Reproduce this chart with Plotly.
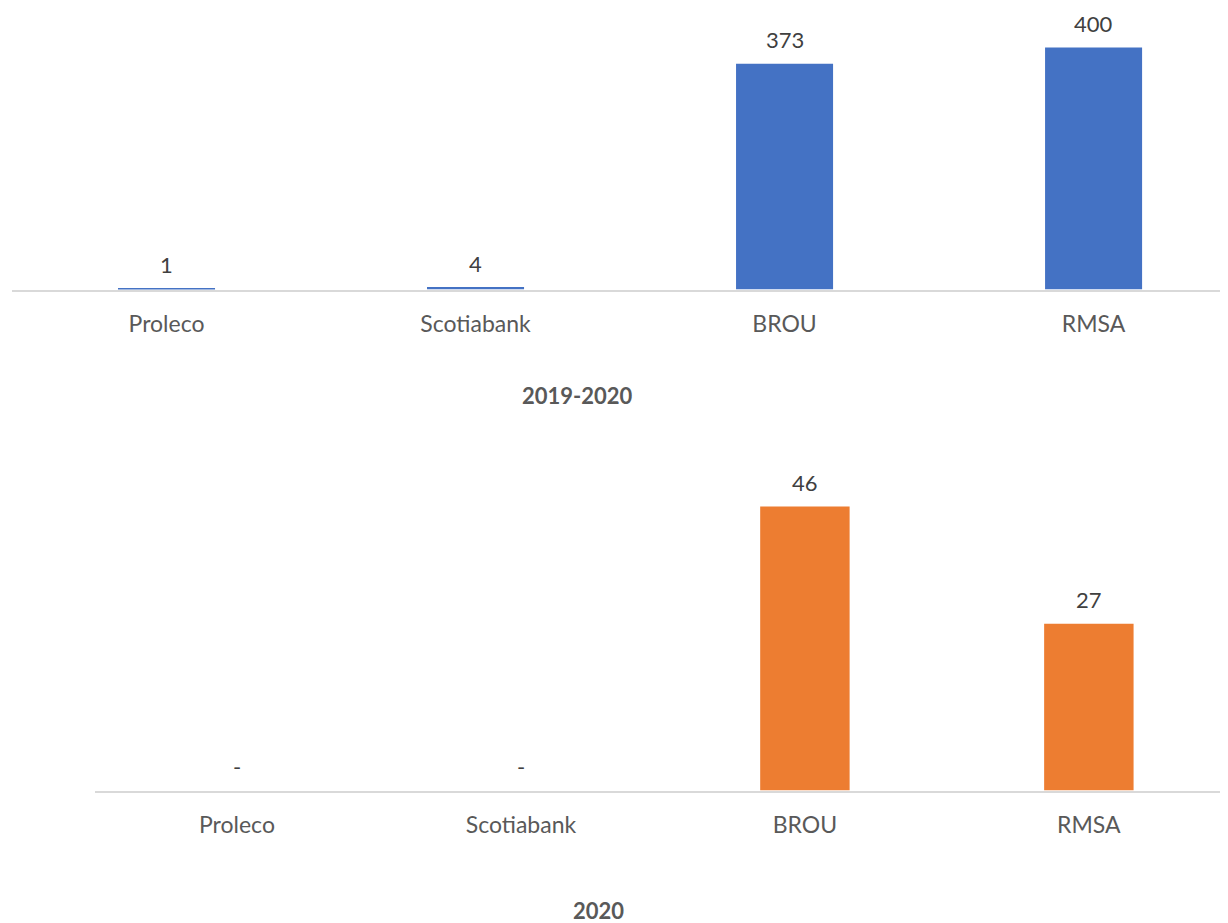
import plotly.graph_objects as go

categories = ["Proleco", "Scotiabank", "BROU", "RMSA"]
values_2019_2020 = [1, 4, 373, 400]
values_2020 = [0, 0, 46, 27]
title_top = "2019-2020"
title_bottom = "2020"

# the page body adds an 8px margin, so the figure is drawn 8px smaller
OFF = 8
W, H = 1228 - OFF, 923 - OFF
FONT = "Lato"
BLUE = "#4472C4"
ORANGE = "#ED7D31"
LABEL_C = "#404040"
TICK_C = "#595959"


def fmt(v):
    return "-" if v == 0 else f"{v:,}"


fig = go.Figure()
fig.add_trace(go.Bar(x=categories, y=values_2019_2020, marker_color=BLUE,
                     marker_line_width=0,
                     width=0.314, xaxis="x", yaxis="y", showlegend=False,
                     hoverinfo="x+y"))
fig.add_trace(go.Bar(x=categories, y=values_2020, marker_color=ORANGE,
                     marker_line_width=0,
                     width=0.315, xaxis="x2", yaxis="y2", showlegend=False,
                     hoverinfo="x+y"))

annotations = []
for c, v in zip(categories, values_2019_2020):
    annotations.append(dict(x=c, y=v, xref="x", yref="y", text=fmt(v),
                            showarrow=False, yanchor="middle", yshift=24,
                            font=dict(family=FONT, size=22, color=LABEL_C)))
for c, v in zip(categories, values_2020):
    annotations.append(dict(x=c, y=v, xref="x2", yref="y2", text=fmt(v),
                            showarrow=False, yanchor="middle", yshift=24,
                            font=dict(family=FONT, size=22, color=LABEL_C)))

annotations.append(dict(x=(577 - OFF) / W, y=1 - (395 - OFF) / H,
                        xref="paper", yref="paper",
                        text="<b>" + title_top + "</b>", showarrow=False,
                        xanchor="center", yanchor="middle",
                        font=dict(family=FONT, size=22, color=TICK_C)))
annotations.append(dict(x=(598 - OFF) / W, y=1 - (910 - OFF) / H,
                        xref="paper", yref="paper",
                        text="<b>" + title_bottom + "</b>", showarrow=False,
                        xanchor="center", yanchor="middle",
                        font=dict(family=FONT, size=22, color=TICK_C)))

# geometry (reference pixel positions, shifted by the page offset)
top_base = 289.5 - OFF
bot_base = 790.5 - OFF
top_scale = 242 / 400.0
bot_scale = 284 / 46.0
bot_top_px = 430 - OFF

xaxis_common = dict(type="category", showgrid=False, zeroline=False,
                    showline=True, linecolor="#D9D9D9", linewidth=1.5,
                    ticks="", ticklabelstandoff=13, fixedrange=True,
                    tickfont=dict(family=FONT, size=23, color=TICK_C))

fig.update_layout(
    width=W, height=H,
    margin=dict(l=0, r=0, t=0, b=0),
    paper_bgcolor="white", plot_bgcolor="white",
    xaxis=dict(domain=[(12 - OFF) / W, 1], range=[-0.5, 3.435], anchor="y",
               **xaxis_common),
    yaxis=dict(domain=[1 - top_base / H, 1], range=[0, top_base / top_scale],
               visible=False, fixedrange=True),
    xaxis2=dict(domain=[(95 - OFF) / W, 1], range=[-0.5, 3.49], anchor="y2",
                **xaxis_common),
    yaxis2=dict(domain=[1 - bot_base / H, 1 - bot_top_px / H],
                range=[0, (bot_base - bot_top_px) / bot_scale],
                visible=False, fixedrange=True),
    annotations=annotations,
    showlegend=False,
)

fig.write_html("out.html")
